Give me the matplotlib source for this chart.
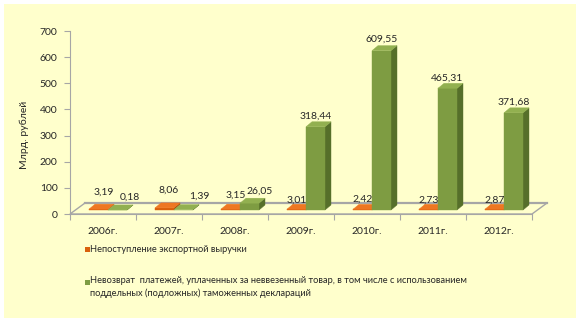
import matplotlib
matplotlib.use("Agg")
import matplotlib.pyplot as plt
from matplotlib.patches import Polygon, Rectangle

# ---- data -------------------------------------------------------------
years = ["2006г.", "2007г.", "2008г.", "2009г.", "2010г.", "2011г.", "2012г."]
export_revenue = [3.19, 8.06, 3.15, 3.01, 2.42, 2.73, 2.87]
unpaid_imports = [0.18, 1.39, 26.05, 318.44, 609.55, 465.31, 371.68]
value_labels_orange = ["3,19", "8,06", "3,15", "3,01", "2,42", "2,73", "2,87"]
value_labels_green = ["0,18", "1,39", "26,05", "318,44", "609,55", "465,31", "371,68"]
yticks = [0, 100, 200, 300, 400, 500, 600, 700]
legend_orange = "Непоступление экспортной выручки"
legend_green = ("Невозврат  платежей, уплаченных за неввезенный товар, в том числе с использованием\n"
                "поддельных (подложных) таможенных деклараций")
y_title = "Млрд. рублей"

# ---- style ------------------------------------------------------------
FONT = "Lato"
plt.rcParams["font.family"] = [FONT, "DejaVu Sans"]
BG = "#FFFFCC"
ORANGE = dict(front="#D9600B", side="#A8470A", top="#EE7722")
GREEN = dict(front="#7E9C42", side="#566F2A", top="#92B050")
EDGE = "#A6A6A6"
TXT = "#262626"

W, H = 580, 324
fig = plt.figure(figsize=(W / 100, H / 100), dpi=100, facecolor="white")
fig.patches.append(Rectangle((4 / W, 6 / H), 572 / W, 314 / H, transform=fig.transFigure,
                             facecolor=BG, edgecolor="none", zorder=-10))

# plot area: x from -0.5..6.5 spans px 70..532, y 0..700 spans px 214..31
left_px, right_px, bot_px, top_px = 70, 532, 214, 31
ax = fig.add_axes([left_px / W, 1 - bot_px / H, (right_px - left_px) / W, (bot_px - top_px) / H])
ax.set_facecolor("none")
ax.set_xlim(-0.5, len(years) - 0.5)
ax.set_ylim(0, 700)

cat_px = (right_px - left_px) / len(years)
DX = 1.0 / cat_px               # data units per pixel (x)
DY = 700.0 / (bot_px - top_px)  # data units per pixel (y)

# floor
fdx, fdy = 15 * DX, 11 * DY
x0, x1 = -0.5, len(years) - 0.5
ax.add_patch(Polygon([(x0, 0), (x1, 0), (x1 + fdx, fdy), (x0 + fdx, fdy)], closed=True,
                     facecolor=BG, edgecolor=EDGE, linewidth=1.0, clip_on=False, zorder=1))
ax.plot([x0 + fdx, x1 + fdx], [fdy, fdy], color=EDGE, lw=1.6, clip_on=False, zorder=1.5)

# bars
bar_w = 19 * DX
off_x, off_y = 5 * DX, 4 * DY      # bar front face set back from floor edge
dep_x, dep_y = 6 * DX, 5 * DY      # bar depth


def draw_bar(xl, val, col, z):
    xr = xl + bar_w
    b = off_y
    t = off_y + val
    side = [(xr, b), (xr + dep_x, b + dep_y), (xr + dep_x, t + dep_y), (xr, t)]
    top = [(xl, t), (xr, t), (xr + dep_x, t + dep_y), (xl + dep_x, t + dep_y)]
    front = [(xl, b), (xr, b), (xr, t), (xl, t)]
    for pts, c in ((side, col["side"]), (front, col["front"]), (top, col["top"])):
        ax.add_patch(Polygon(pts, closed=True, facecolor=c, edgecolor=c, linewidth=0.3,
                             clip_on=False, zorder=z))


# label nudges (pixels) for the crowded small values
orange_nudge = [(5.5, 12), (4, 13), (5, 9), (0, 4), (0, 5), (0, 4), (0, 4)]
green_nudge = [(12, 8), (16, 8), (10.5, 7), (0, 6), (0, 6), (0, 5.5), (0, 6)]

for i in range(len(years)):
    xo = i - bar_w + off_x
    xg = i + off_x
    draw_bar(xo, export_revenue[i], ORANGE, 3 + i * 0.01)
    draw_bar(xg, unpaid_imports[i], GREEN, 3.005 + i * 0.01)
    for xl, val, lab, nd in ((xo, export_revenue[i], value_labels_orange[i], orange_nudge[i]),
                             (xg, unpaid_imports[i], value_labels_green[i], green_nudge[i])):
        ax.annotate(lab, (xl + bar_w / 2, off_y + dep_y + val), xytext=nd,
                    textcoords="offset pixels", ha="center", va="center",
                    fontsize=7.5, color=TXT, zorder=10, annotation_clip=False)

# axes styling
for s in ("top", "right"):
    ax.spines[s].set_visible(False)
ax.spines["left"].set_color(EDGE)
ax.spines["bottom"].set_color(EDGE)
ax.set_yticks(yticks)
ax.set_yticklabels([str(v) for v in yticks], fontsize=7.5, color=TXT)
ax.tick_params(axis="y", direction="out", length=4, color=EDGE, pad=5)
ax.set_xticks([k - 0.5 for k in range(len(years) + 1)])
ax.set_xticklabels([])
ax.set_xticks(range(len(years)), minor=True)
ax.set_xticklabels(years, minor=True, fontsize=7.5, color=TXT)
ax.tick_params(axis="x", which="major", direction="out", length=4, color=EDGE)
ax.tick_params(axis="x", which="minor", length=0, pad=9)

fig.text(24 / W, 1 - 135 / H, y_title, rotation=90, ha="center", va="center",
         fontsize=7.5, color=TXT)

# legend
fig.patches.append(Rectangle((84.5 / W, 1 - 251.5 / H), 5 / W, 5 / H, transform=fig.transFigure,
                             facecolor=ORANGE["front"], edgecolor="none"))
fig.text(89.5 / W, 1 - 249 / H, legend_orange, ha="left", va="center", fontsize=6.7, color=TXT)
fig.patches.append(Rectangle((84.5 / W, 1 - 284.5 / H), 5 / W, 5 / H, transform=fig.transFigure,
                             facecolor=GREEN["front"], edgecolor="none"))
fig.text(89.5 / W, 1 - 276 / H, legend_green, ha="left", va="top", fontsize=6.7, color=TXT,
         linespacing=1.5)

fig.savefig("out.png", dpi=100, facecolor="white")
